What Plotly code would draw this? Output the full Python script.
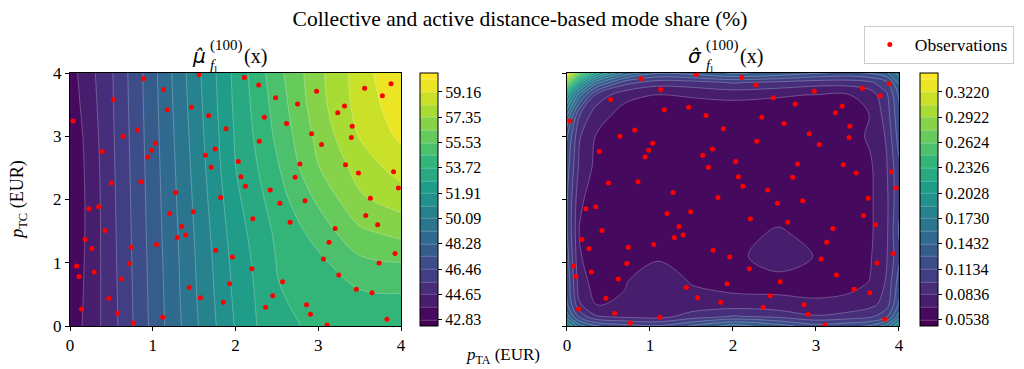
import plotly.graph_objects as go
from plotly.colors import sample_colorscale, sequential

# observations: (p_TA, p_TC) in EUR
obs_ta = [0.892, 1.56, 2.107, 2.28, 1.13, 0.527, 0.036, 1.174, 1.467, 1.676,
          2.485, 2.75, 2.348, 2.617, 2.98, 3.56, 3.88, 3.775, 3.317, 3.236,
          3.41, 3.40, 2.92, 3.04, 1.885, 2.287, 0.816, 0.64, 1.033, 0.985,
          0.94, 0.39, 1.753, 1.636, 2.034, 1.705, 2.778, 3.33, 3.486, 3.91,
          3.968, 2.066, 2.72, 2.12, 2.42, 0.50, 0.856, 1.278, 1.82, 3.63,
          2.84,
          2.537, 0.229, 0.346, 1.206, 1.49, 2.21, 2.66, 3.574, 3.718, 3.204,
          0.422, 1.35, 1.40, 1.294, 0.181, 0.265, 0.74, 1.045, 1.761, 1.962,
          3.13, 3.063, 3.928, 3.735, 0.08, 0.72, 0.293, 2.199, 0.109, 0.619,
          2.569, 3.248, 1.93, 1.44, 3.46, 3.65, 2.45, 0.47, 1.576, 1.853,
          2.858, 2.364, 0.14, 0.575, 1.12, 2.906, 0.764, 3.107, 3.83]
obs_tc = [3.911, 3.975, 3.93, 3.81, 3.74, 3.58, 3.24, 3.42, 3.46, 3.33,
          3.61, 3.51, 3.30, 3.20, 3.71, 3.76, 3.83, 3.64, 3.48, 3.37,
          3.16, 2.98, 3.04, 2.87, 3.12, 2.92, 3.10, 3.00, 2.89, 2.78,
          2.67, 2.76, 2.80, 2.70, 2.60, 2.51, 2.56, 2.55, 2.42, 2.44,
          2.18, 2.36, 2.35, 2.21, 2.15, 2.26, 2.28, 2.11, 2.03, 2.02,
          1.98,
          1.94, 1.855, 1.887, 1.78, 1.807, 1.696, 1.64, 1.749, 1.60, 1.54,
          1.51, 1.574, 1.44, 1.40, 1.367, 1.224, 1.245, 1.288, 1.198, 1.09,
          1.325, 1.06, 1.145, 0.996, 0.949, 0.99, 0.853, 0.906, 0.784, 0.742,
          0.70, 0.806, 0.668, 0.61, 0.583, 0.525, 0.477, 0.44, 0.445, 0.376,
          0.334, 0.297, 0.27, 0.20, 0.138, 0.185, 0.048, 0.016, 0.106]

# posterior mean grid (%)
mu_x = [0, 0.5, 1, 1.5, 2, 2.5, 3, 3.5, 4]
mu_y = [0, 0.5, 1, 1.5, 2, 2.5, 3, 3.5, 4]
mu_z = [
    [43.15, 45.17, 47.62, 49.87, 51.97, 53.60, 53.80, 54.00, 54.00],
    [43.05, 45.20, 47.67, 49.96, 52.10, 53.65, 54.05, 54.50, 54.60],
    [42.95, 45.24, 47.71, 50.02, 52.22, 53.75, 54.40, 55.30, 55.53],
    [42.88, 45.27, 47.76, 50.10, 52.40, 53.90, 55.00, 56.30, 56.76],
    [42.86, 45.30, 47.80, 50.20, 52.60, 54.20, 55.70, 57.20, 57.76],
    [42.90, 45.34, 47.84, 50.30, 52.80, 54.50, 56.40, 57.70, 58.66],
    [43.00, 45.38, 47.89, 50.40, 52.90, 54.80, 56.70, 58.30, 59.35],
    [43.20, 45.42, 47.94, 50.50, 53.00, 55.00, 57.00, 58.60, 59.71],
    [43.35, 45.46, 47.98, 50.59, 53.07, 55.21, 57.10, 58.70, 60.05],
]

# posterior std grid
sd_x = [0, 0.15, 0.35, 0.7, 1.1, 1.5, 2.0, 2.55, 3.0, 3.4, 3.65, 3.85, 4.0]
sd_y = [0, 0.15, 0.35, 0.7, 1.1, 1.5, 2.0, 2.5, 3.0, 3.35, 3.65, 3.85, 4.0]
sd_z = [
    [0.19, 0.15, 0.13, 0.12, 0.115, 0.13, 0.15, 0.135, 0.12, 0.125, 0.13, 0.15, 0.19],
    [0.15, 0.11, 0.085, 0.08, 0.078, 0.09, 0.10, 0.095, 0.085, 0.09, 0.095, 0.11, 0.15],
    [0.13, 0.085, 0.068, 0.07, 0.078, 0.073, 0.074, 0.072, 0.07, 0.072, 0.078, 0.09, 0.13],
    [0.125, 0.075, 0.063, 0.068, 0.076, 0.068, 0.063, 0.064, 0.065, 0.065, 0.069, 0.085, 0.12],
    [0.12, 0.07, 0.061, 0.064, 0.067, 0.064, 0.065, 0.076, 0.068, 0.063, 0.067, 0.082, 0.11],
    [0.115, 0.068, 0.06, 0.06, 0.06, 0.06, 0.064, 0.070, 0.064, 0.062, 0.066, 0.08, 0.115],
    [0.115, 0.072, 0.06, 0.058, 0.06, 0.06, 0.058, 0.06, 0.06, 0.062, 0.066, 0.08, 0.11],
    [0.12, 0.08, 0.065, 0.06, 0.058, 0.06, 0.06, 0.06, 0.06, 0.062, 0.066, 0.082, 0.11],
    [0.13, 0.085, 0.068, 0.06, 0.058, 0.06, 0.06, 0.06, 0.06, 0.062, 0.071, 0.085, 0.12],
    [0.16, 0.10, 0.075, 0.064, 0.06, 0.06, 0.06, 0.06, 0.06, 0.062, 0.069, 0.09, 0.125],
    [0.21, 0.15, 0.095, 0.072, 0.068, 0.07, 0.072, 0.07, 0.068, 0.068, 0.075, 0.095, 0.13],
    [0.28, 0.21, 0.15, 0.105, 0.09, 0.092, 0.10, 0.095, 0.09, 0.09, 0.095, 0.11, 0.145],
    [0.336, 0.27, 0.21, 0.155, 0.13, 0.135, 0.145, 0.14, 0.13, 0.125, 0.13, 0.14, 0.165],
]

mu_ticks = ["42.83", "44.65", "46.46", "48.28", "50.09", "51.91", "53.72", "55.53", "57.35", "59.16"]
sd_ticks = ["0.0538", "0.0836", "0.1134", "0.1432", "0.1730", "0.2028", "0.2326", "0.2624", "0.2922", "0.3220"]

SERIF = "Liberation Serif"

# 19 bands, each coloured at its matplotlib midpoint (k+0.5)/19
pos = [i / 40 for i in range(41)]
cmap = [[p, c] for p, c in zip(pos, sample_colorscale(
    sequential.Viridis, [min(1.0, max(0.0, (20 * p - 0.5) / 19)) for p in pos]))]


def cbar(x, ticks):
    return dict(x=x, xanchor="left", y=0.5, yanchor="middle", len=1, lenmode="fraction",
                thickness=18, xpad=0, ypad=0, outlinewidth=1, outlinecolor="black",
                ticks="outside", ticklen=4, tickcolor="black",
                tickvals=[float(t) for t in ticks], ticktext=ticks,
                tickfont=dict(family=SERIF, size=16, color="black"))


mu_step = (float(mu_ticks[-1]) - float(mu_ticks[0])) / 18
sd_step = (float(sd_ticks[-1]) - float(sd_ticks[0])) / 18
line_style = dict(color="rgba(255,255,255,0.42)", width=0.6, smoothing=1.0)

fig = go.Figure()
fig.add_trace(go.Contour(
    x=mu_x, y=mu_y, z=mu_z, colorscale=cmap, hoverinfo="skip",
    contours=dict(start=float(mu_ticks[0]), end=float(mu_ticks[-1]) + mu_step * 1.01,
                  size=mu_step, coloring="fill"),
    line=line_style, colorbar=cbar(0.3796, mu_ticks), xaxis="x", yaxis="y"))
fig.add_trace(go.Contour(
    x=sd_x, y=sd_y, z=sd_z, colorscale=cmap, hoverinfo="skip",
    contours=dict(start=float(sd_ticks[0]), end=float(sd_ticks[-1]) + sd_step * 1.01,
                  size=sd_step, coloring="fill"),
    line=line_style, colorbar=cbar(0.922, sd_ticks), xaxis="x2", yaxis="y2"))

for i, (xa, ya) in enumerate([("x", "y"), ("x2", "y2")]):
    fig.add_trace(go.Scatter(x=obs_ta, y=obs_tc, mode="markers", name="Observations",
                             marker=dict(color="red", size=5), showlegend=(i == 1),
                             xaxis=xa, yaxis=ya, hoverinfo="skip"))

ax = dict(range=[0, 4], tickvals=[0, 1, 2, 3, 4], ticks="outside", ticklen=4, tickcolor="black",
          showline=True, mirror=True, linecolor="black", linewidth=1, showgrid=False,
          zeroline=False, tickfont=dict(family=SERIF, size=17, color="black"))


def note(text, x, y, size, **kw):
    d = dict(text=text, x=x, y=y, xref="paper", yref="paper", xanchor="left",
             yanchor="middle", showarrow=False, font=dict(size=size))
    d.update(kw)
    return d


annotations = []
# panel titles: hatted symbol, stacked (100) over f_l, then (x)
for x0, sym in [(0.1302, "μ"), (0.6681, "σ")]:
    annotations.append(note("<i>" + sym + "\u0302</i>", x0, 1.067, 20,
                            font=dict(family="DejaVu Sans", size=20)))
    annotations.append(note("(100)<br><i>f</i><sub>l</sub>", x0 + 0.0195, 1.066, 15, align="left"))
    annotations.append(note("(x)", x0 + 0.0565, 1.067, 20))
annotations.append(note("<i>p</i><sub>TA</sub> (EUR)", 0.47, -0.118, 17, xanchor="center"))
annotations.append(note("<i>p</i><sub>TC</sub> (EUR)", -0.056, 0.5, 18, xanchor="center",
                        textangle=-90))

fig.update_layout(
    width=1024, height=369, plot_bgcolor="white", paper_bgcolor="white",
    margin=dict(l=62, r=40, t=65, b=51),
    font=dict(family=SERIF, color="black"),
    xaxis=dict(ax, domain=[0, 0.359], anchor="y"),
    yaxis=dict(ax, domain=[0, 1], anchor="x"),
    xaxis2=dict(ax, domain=[0.539, 0.899], anchor="y2"),
    yaxis2=dict(ax, domain=[0, 1], anchor="x2", showticklabels=False),
    title=dict(text="Collective and active distance-based mode share (%)", x=0.5, xref="container",
               y=0.972, yanchor="middle", font=dict(family=SERIF, size=21.5)),
    legend=dict(x=0.861, y=1.187, xanchor="left", yanchor="top", bgcolor="white",
                bordercolor="#cccccc", borderwidth=1, itemwidth=40,
                font=dict(family=SERIF, size=17.5)),
    annotations=annotations,
)

fig.write_html("out.html")
